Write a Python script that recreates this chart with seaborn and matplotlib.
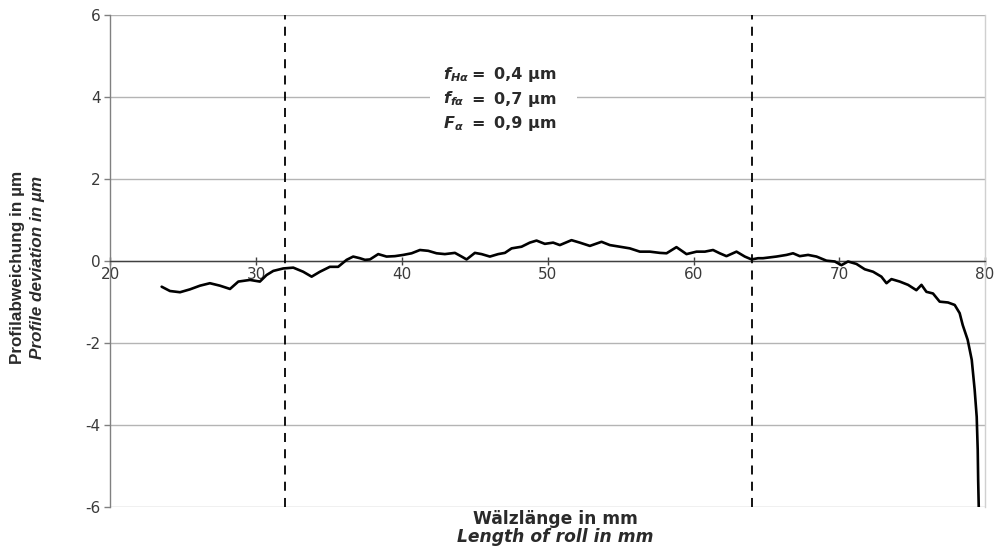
import matplotlib
matplotlib.use("Agg")
import matplotlib.pyplot as plt
import seaborn as sns
import pandas as pd

# ---- data ----
x_mm = [23.51, 24.08, 24.77, 25.45, 26.14, 26.82, 27.51, 28.20, 28.77, 29.57,
        30.25, 30.71, 31.17, 31.85, 32.54, 33.22, 33.80, 34.37, 35.05, 35.62,
        36.20, 36.65, 37.11, 37.46, 37.80, 38.37, 38.94, 39.51, 40.08, 40.66,
        41.23, 41.80, 42.37, 42.94, 43.63, 44.09, 44.43, 45.00, 45.46, 46.03,
        46.60, 47.06, 47.52, 48.20, 48.77, 49.23, 49.80, 50.37, 50.83, 51.63,
        52.20, 52.89, 53.69, 54.26, 54.95, 55.63, 56.32, 57.00, 57.69, 58.15,
        58.83, 59.52, 60.21, 60.78, 61.34, 61.80, 62.26, 62.95, 63.52, 63.98,
        64.43, 64.77, 65.69, 66.38, 66.83, 67.29, 67.86, 68.44, 69.12, 69.69,
        70.15, 70.60, 71.18, 71.75, 72.32, 72.89, 73.24, 73.58, 74.15, 74.72,
        75.29, 75.64, 75.98, 76.43, 76.89, 77.46, 77.92, 78.26, 78.47, 78.81,
        79.09, 79.29, 79.43, 79.50, 79.53, 79.57]
dev_um = [-0.615, -0.72, -0.75, -0.68, -0.59, -0.53, -0.59, -0.67, -0.49, -0.45,
          -0.49, -0.33, -0.23, -0.17, -0.15, -0.25, -0.37, -0.25, -0.13, -0.13,
          0.04, 0.12, 0.08, 0.04, 0.05, 0.18, 0.12, 0.13, 0.16, 0.20,
          0.28, 0.26, 0.20, 0.18, 0.21, 0.12, 0.05, 0.21, 0.18, 0.12,
          0.18, 0.21, 0.32, 0.36, 0.46, 0.51, 0.43, 0.46, 0.40, 0.52,
          0.46, 0.38, 0.48, 0.40, 0.36, 0.32, 0.24, 0.24, 0.21, 0.20,
          0.35, 0.18, 0.24, 0.24, 0.28, 0.20, 0.13, 0.24, 0.12, 0.05,
          0.08, 0.08, 0.12, 0.16, 0.20, 0.13, 0.16, 0.12, 0.02, 0.00,
          -0.09, 0.00, -0.06, -0.19, -0.25, -0.37, -0.53, -0.43, -0.49, -0.57,
          -0.70, -0.57, -0.74, -0.78, -0.98, -1.00, -1.06, -1.26, -1.55, -1.91,
          -2.40, -3.13, -3.79, -4.60, -5.33, -5.99]

x_ticks = [20, 30, 40, 50, 60, 70, 80]
y_ticks = [-6, -4, -2, 0, 2, 4, 6]
eval_limits = [32, 64]
annot_symbols = [r"$\mathbfit{f}_{\mathbfit{H\alpha}}$",
                 r"$\mathbfit{f}_{\mathbfit{f\alpha}}$",
                 r"$\mathbfit{F}_{\mathbfit{\alpha}}$"]
annot_values = ["0,4 µm", "0,7 µm", "0,9 µm"]
ylabel_de = "Profilabweichung in µm"
ylabel_en = "Profile deviation in µm"
xlabel_de = "Wälzlänge in mm"
xlabel_en = "Length of roll in mm"

df = pd.DataFrame({"x": x_mm, "y": dev_um})

sns.set_theme(style="white")
plt.rcParams["font.family"] = ["DejaVu Sans"]
plt.rcParams["axes.unicode_minus"] = False
plt.rcParams["mathtext.fontset"] = "custom"
plt.rcParams["mathtext.rm"] = "DejaVu Sans"
plt.rcParams["mathtext.it"] = "DejaVu Sans:italic"
plt.rcParams["mathtext.bf"] = "DejaVu Sans:bold"
plt.rcParams["mathtext.bfit"] = "DejaVu Sans:bold:italic"

fig = plt.figure(figsize=(9.99, 5.53), dpi=100)
ax = fig.add_axes([0.1106, 0.0823, 0.8754, 0.8897])

ax.set_xlim(20, 80)
ax.set_ylim(-6, 6)
ax.set_xticks(x_ticks)
ax.set_yticks(y_ticks)
ax.set_xticklabels([str(v) for v in x_ticks])
ax.set_yticklabels([str(v) for v in y_ticks])

ax.set_axisbelow(True)
ax.yaxis.grid(True, color="#b4b4b4", linewidth=1.0)
ax.xaxis.grid(False)

ax.spines["top"].set_visible(False)
ax.spines["right"].set_color("#d0d0d0")
ax.spines["right"].set_linewidth(1.0)
ax.spines["left"].set_color("#808080")
ax.spines["left"].set_linewidth(1.0)
ax.spines["bottom"].set_position(("data", 0))
ax.spines["bottom"].set_color("#404040")
ax.spines["bottom"].set_linewidth(1.0)

ax.tick_params(axis="x", direction="inout", length=6, width=1, color="#404040",
               labelsize=11, labelcolor="#3a3a3a", pad=1, bottom=True)
ax.tick_params(axis="y", direction="out", length=4, width=1, color="#808080",
               labelsize=11, labelcolor="#3a3a3a", pad=3, left=True)

for xv in eval_limits:
    ax.axvline(xv, color="black", linestyle=(0, (5, 4)), linewidth=1.3, zorder=3)

sns.lineplot(data=df, x="x", y="y", ax=ax, color="black", linewidth=1.9,
             estimator=None, sort=False, zorder=4)
ax.set_xlabel("")
ax.set_ylabel("")

# white background behind annotation (breaks the gridline)
ax.axhspan(3.0, 4.9, xmin=(41.9 - 20) / 60, xmax=(52.0 - 20) / 60,
           color="white", zorder=1.5, linewidth=0)
for i, (sym, val) in enumerate(zip(annot_symbols, annot_values)):
    yy = 4.55 - 0.59 * i
    ax.text(42.8, yy, sym, ha="left", va="center",
            fontsize=11.5, fontweight="bold", color="#2a2a2a", zorder=5)
    ax.text(44.75, yy, "=", ha="left", va="center",
            fontsize=11.5, fontweight="bold", color="#2a2a2a", zorder=5)
    ax.text(46.3, yy, val, ha="left", va="center",
            fontsize=11.5, fontweight="bold", color="#2a2a2a", zorder=5)

lab_font = ["Liberation Sans", "DejaVu Sans"]
fig.text(18 / 999, 1 - 267 / 553, ylabel_de, rotation=90, ha="center", va="center",
         fontsize=12.3, fontweight="bold", color="#2a2a2a", family=lab_font)
fig.text(38 / 999, 1 - 267 / 553, ylabel_en, rotation=90, ha="center", va="center",
         fontsize=12.3, fontweight="bold", fontstyle="italic", color="#2a2a2a",
         family=lab_font)
fig.text(555 / 999, 1 - 519 / 553, xlabel_de, ha="center", va="center",
         fontsize=12.3, fontweight="bold", color="#2a2a2a")
fig.text(555 / 999, 1 - 537 / 553, xlabel_en, ha="center", va="center",
         fontsize=12.3, fontweight="bold", fontstyle="italic", color="#2a2a2a")

fig.savefig("out.png", dpi=100, facecolor="white")
